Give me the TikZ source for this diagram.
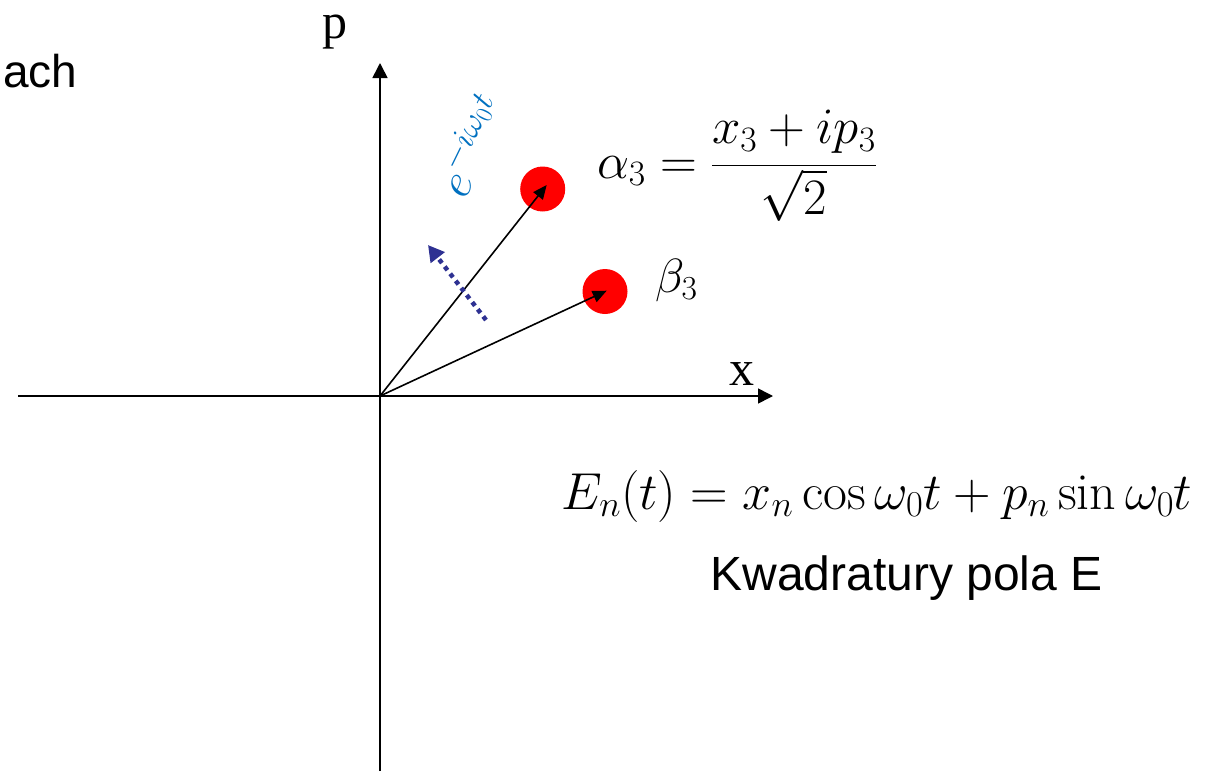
\documentclass[tikz,border=0pt]{standalone}
\usepackage{fix-cm}
\usepackage{amsmath}
\usepackage{fontspec}
\newfontfamily\arialf{Liberation Sans}
\newfontfamily\serifL{Liberation Serif}
\usetikzlibrary{arrows.meta}
\definecolor{eblue}{RGB}{0,112,192}
\definecolor{dotblue}{RGB}{46,49,146}
\begin{document}
\begin{tikzpicture}[x=1pt,y=-1pt,
  axis/.style={line width=1.6pt,-{Triangle[length=15pt,width=15pt]}},
  vec/.style={line width=1.6pt,-{Triangle[length=14pt,width=12pt]}},
  reddot/.style={circle,fill=red,minimum size=45pt,inner sep=0pt},
  dotarrow/.style={dotblue,line width=4.5pt,dash pattern=on 4.5pt off 4.5pt,-{Triangle[length=16pt,width=17pt]}},
  sans/.style={font=\arialf\fontsize{46}{52}\selectfont,inner sep=0pt},
  serifl/.style={font=\serifL\fontsize{50}{56}\selectfont,inner sep=0pt},
  mathl/.style={font=\fontsize{50}{56}\selectfont,inner sep=0pt}]
\useasboundingbox (0,0) rectangle (1207,771);
\coordinate (O) at (380,396);
\coordinate (xs) at (18,396);
\coordinate (xe) at (773,396);
\coordinate (pb) at (380,771);
\coordinate (pt) at (380,63);
\draw[axis] (xs) -- (xe);
\draw[axis] (pb) -- (pt);
\node[serifl,anchor=base] (plab) at (335,38) {p};
\node[serifl,anchor=base] (xlab) at (742,385) {x};
\node[sans,anchor=base west] (ach) at (3,87) {ach};
\node[reddot] (a) at (542.7,189) {};
\node[reddot] (b) at (605,291.5) {};
\coordinate (at) at (546.7,185);
\coordinate (bt) at (606.7,290.7);
\draw[vec] (O) -- (at);
\draw[vec] (O) -- (bt);
\coordinate (d1) at (486,320);
\coordinate (d2) at (428,245);
\draw[dotarrow] (d1) -- (d2);
\node[mathl,font=\fontsize{48}{54}\selectfont,text=eblue,rotate=64] (rot) at (470,145) {$e^{-i\omega_0 t}$};
\node[mathl,font=\fontsize{51}{57}\selectfont,anchor=base west] (alpha) at (597,178) {$\alpha_3=\dfrac{x_3+ip_3}{\sqrt{2}}$};
\node[mathl,font=\fontsize{48}{54}\selectfont,anchor=base west] (beta) at (655,292) {$\beta_3$};
\node[mathl,font=\fontsize{52}{58}\selectfont,anchor=base] (En) at (877,509) {$E_n(t)=x_n\cos\omega_0 t+p_n\sin\omega_0 t$};
\node[sans,font=\arialf\fontsize{48}{54}\selectfont,anchor=base] (kw) at (906.5,590) {Kwadratury pola E};
\end{tikzpicture}
\end{document}
